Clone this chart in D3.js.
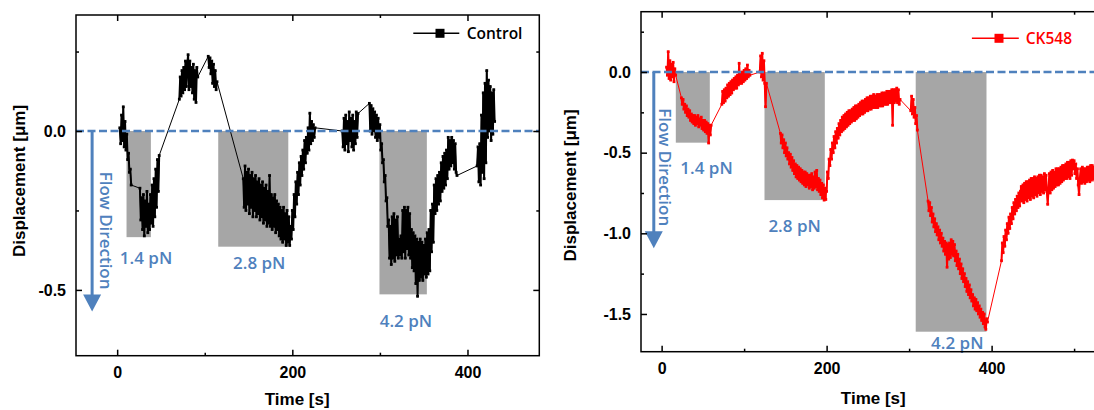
<!DOCTYPE html>
<html><head><meta charset="utf-8">
<script src="https://cdn.jsdelivr.net/npm/d3@7"></script>
<style>body{margin:0;background:#fff;} svg{display:block;}</style>
</head><body><svg id="c" width="1094" height="410"></svg>
<script>
// ---------------- data ----------------
const sampleInterval = 1; // s
const forceLabels = ["1.4 pN", "2.8 pN", "4.2 pN"];

// Control: start time of each recorded block and its displacement readings (µm)
const controlBlockStart = [3, 26, 71, 104, 144, 257, 288, 411];
const controlBlockValues = [
  [0.01,-0.04,0.05,-0.03,0.076,-0.05,0.03,-0.06,-0.01,-0.09,-0.07,-0.13,-0.12,-0.17],
  [-0.18,-0.28,-0.21,-0.31,-0.2,-0.33,-0.22,-0.3,-0.19,-0.32,-0.23,-0.31,-0.2,-0.29,-0.17,-0.3,-0.15,-0.27,-0.12,-0.24,-0.09,-0.19,-0.077],
  [0.1,0.17,0.11,0.19,0.12,0.2,0.13,0.22,0.14,0.21,0.24,0.13,0.22,0.14,0.2,0.12,0.21,0.1,0.19,0.09,0.2,0.17],
  [0.235,0.2,0.23,0.18,0.22,0.15,0.21,0.14,0.19,0.13,0.155],
  [-0.15,-0.24,-0.11,-0.25,-0.13,-0.23,-0.12,-0.26,-0.14,-0.24,
   -0.13,-0.27,-0.15,-0.25,-0.14,-0.27,-0.16,-0.26,-0.15,-0.28,
   -0.17,-0.27,-0.16,-0.29,-0.18,-0.28,-0.17,-0.3,-0.19,-0.29,
   -0.14,-0.3,-0.2,-0.31,-0.21,-0.3,-0.2,-0.32,-0.22,-0.31,
   -0.23,-0.33,-0.24,-0.34,-0.25,-0.35,-0.24,-0.34,-0.26,-0.36,
   -0.25,-0.35,-0.27,-0.36,-0.3,-0.34,-0.25,-0.31,-0.2,-0.27,
   -0.16,-0.23,-0.13,-0.2,-0.1,-0.17,-0.08,-0.14,-0.06,-0.12,
   -0.03,-0.1,-0.02,-0.07,0.01,-0.06,0.056,-0.04,0.03,-0.03,
   0.02,-0.02,0.01],
  [0.0,-0.05,0.04,-0.06,0.05,-0.04,0.03,-0.065,0.06,-0.03,0.04,-0.05,0.05,-0.06,0.03,-0.04,0.06,-0.02,0.055],
  [0.087,0.0,0.08,-0.01,0.07,0.0,0.06,-0.02,0.05,-0.03,
   0.04,-0.02,0.02,-0.06,-0.04,-0.1,-0.09,-0.16,-0.14,-0.22,
   -0.21,-0.3,-0.28,-0.4,-0.3,-0.42,-0.27,-0.4,-0.26,-0.41,
   -0.28,-0.39,-0.27,-0.4,-0.34,-0.39,-0.33,-0.4,-0.25,-0.38,
   -0.24,-0.4,-0.25,-0.37,-0.24,-0.39,-0.26,-0.4,-0.31,-0.43,
   -0.32,-0.44,-0.33,-0.48,-0.34,-0.52,-0.35,-0.47,-0.34,-0.46,
   -0.35,-0.47,-0.36,-0.45,-0.34,-0.46,-0.32,-0.45,-0.31,-0.44,
   -0.25,-0.38,-0.23,-0.35,-0.17,-0.26,-0.15,-0.25,-0.14,-0.23,
   -0.13,-0.22,-0.1,-0.19,-0.08,-0.18,-0.07,-0.17,-0.06,-0.15,
   -0.02,-0.12,-0.03,-0.11,-0.02,-0.1,-0.03,-0.12,-0.04,-0.13,-0.14],
  [-0.11,-0.05,-0.16,-0.04,-0.17,0.05,-0.13,0.12,-0.15,0.15,-0.1,0.19,-0.02,0.16,0.0,0.14,-0.03,0.12,-0.01,0.13,0.03]
];

// CK548
const ck548BlockStart = [6, 24, 73, 119, 144, 200, 302, 323, 412];
const ck548BlockValues = [
  [0.03,-0.02,0.126,-0.04,0.07,-0.05,0.05,-0.03,0.06,-0.06,0.02,-0.02],
  [-0.16,-0.2,-0.17,-0.23,-0.2,-0.25,-0.21,-0.27,-0.23,-0.28,
   -0.24,-0.3,-0.26,-0.31,-0.27,-0.32,-0.27,-0.33,-0.28,-0.32,
   -0.27,-0.34,-0.29,-0.33,-0.28,-0.35,-0.3,-0.36,-0.3,-0.37,
   -0.31,-0.38,-0.32,-0.44,-0.33,-0.39,-0.33],
  [-0.2,-0.12,-0.19,-0.11,-0.18,-0.1,-0.16,-0.08,-0.15,-0.07,
   -0.14,-0.06,-0.13,-0.05,-0.11,-0.04,-0.1,-0.03,-0.1,-0.02,
   -0.08,0.054,-0.07,-0.01,-0.07,0.0,-0.06,0.01,-0.05,0.02,
   -0.04,0.043,-0.03,0.01,-0.02],
  [0.0,0.1,-0.03,0.116,-0.05,0.07,-0.07,-0.215,-0.07],
  [-0.38,-0.44,-0.39,-0.47,-0.42,-0.5,-0.44,-0.52,-0.47,-0.54,
   -0.5,-0.57,-0.51,-0.59,-0.53,-0.61,-0.55,-0.63,-0.57,-0.65,
   -0.58,-0.66,-0.59,-0.67,-0.6,-0.68,-0.61,-0.69,-0.62,-0.7,
   -0.62,-0.71,-0.63,-0.7,-0.64,-0.72,-0.64,-0.71,-0.63,-0.73,
   -0.65,-0.72,-0.62,-0.71,-0.61,-0.73,-0.66,-0.74,-0.67,-0.76,
   -0.69,-0.78,-0.7,-0.794,-0.72,-0.79],
  [-0.74,-0.62,-0.66,-0.54,-0.58,-0.48,-0.54,-0.44,-0.5,-0.4,
   -0.47,-0.37,-0.44,-0.35,-0.41,-0.32,-0.39,-0.3,-0.37,-0.28,
   -0.36,-0.27,-0.35,-0.26,-0.34,-0.25,-0.33,-0.24,-0.32,-0.24,
   -0.31,-0.23,-0.3,-0.22,-0.3,-0.21,-0.29,-0.21,-0.28,-0.2,
   -0.27,-0.19,-0.26,-0.18,-0.26,-0.18,-0.25,-0.17,-0.24,-0.16,
   -0.24,-0.16,-0.23,-0.15,-0.23,-0.15,-0.22,-0.14,-0.22,-0.15,
   -0.22,-0.14,-0.22,-0.14,-0.21,-0.14,-0.21,-0.13,-0.21,-0.13,
   -0.2,-0.13,-0.2,-0.12,-0.2,-0.12,-0.19,-0.12,-0.19,-0.11,
   -0.33,-0.11,-0.19,-0.11,-0.18,-0.1,-0.19,-0.11,-0.2,-0.17],
  [-0.24,-0.15,-0.26,-0.17,-0.28,-0.22,-0.32,-0.27,-0.36],
  [-0.8,-0.86,-0.81,-0.89,-0.84,-0.93,-0.88,-0.96,-0.91,-0.99,
   -0.94,-1.01,-0.96,-1.04,-0.98,-1.06,-1.0,-1.08,-1.03,-1.11,
   -1.05,-1.13,-1.06,-1.21,-1.07,-1.16,-1.06,-1.15,-1.04,-1.13,
   -1.05,-1.14,-1.07,-1.17,-1.11,-1.2,-1.13,-1.22,-1.16,-1.25,
   -1.19,-1.28,-1.22,-1.3,-1.25,-1.33,-1.28,-1.36,-1.3,-1.38,
   -1.32,-1.4,-1.35,-1.42,-1.38,-1.45,-1.4,-1.47,-1.41,-1.48,
   -1.43,-1.5,-1.45,-1.52,-1.47,-1.54,-1.49,-1.56,-1.5,-1.58,
   -1.595,-1.53,-1.55],
  [-1.17,-1.06,-1.12,-1.02,-1.08,-0.98,-1.04,-0.94,-1.0,-0.9,
   -0.97,-0.88,-0.94,-0.84,-0.91,-0.81,-0.88,-0.79,-0.86,-0.77,
   -0.84,-0.75,-0.83,-0.74,-0.71,-0.8,-0.7,-0.81,-0.69,-0.79,
   -0.68,-0.8,-0.68,-0.78,-0.67,-0.79,-0.66,-0.77,-0.66,-0.78,
   -0.65,-0.76,-0.66,-0.77,-0.65,-0.75,-0.64,-0.76,-0.64,-0.74,
   -0.65,-0.75,-0.63,-0.73,-0.64,-0.74,-0.82,-0.73,-0.63,-0.75,
   -0.62,-0.73,-0.61,-0.72,-0.62,-0.71,-0.6,-0.7,-0.6,-0.7,
   -0.6,-0.69,-0.59,-0.68,-0.58,-0.67,-0.58,-0.66,-0.57,-0.66,
   -0.56,-0.65,-0.56,-0.66,-0.55,-0.64,-0.546,-0.6,-0.55,-0.63,
   -0.57,-0.66,-0.6,-0.7,-0.76,-0.66,-0.6,-0.69,-0.59,-0.68,
   -0.6,-0.69,-0.6,-0.68,-0.59,-0.67,-0.59,-0.68,-0.58,-0.67,
   -0.58,-0.66,-0.59,-0.67,-0.58,-0.66,-0.59,-0.67,-0.6]
];

// Force application windows (time start/end in s, depth of shaded box in µm)
const controlForceStart = [10.7, 115.4, 299.5];
const controlForceEnd   = [38.5, 195.4, 353.6];
const controlForceDepth = [-0.334, -0.364, -0.514];
const ck548ForceStart = [17.2, 124.7, 308];
const ck548ForceEnd   = [58.4, 197.8, 393.8];
const ck548ForceDepth = [-0.438, -0.794, -1.61];

// Force label anchors (time, displacement)
const controlLabelTime = [33, 162.2, 329.7];
const controlLabelDisp = [-0.40, -0.416, -0.597];
const ck548LabelTime = [54.4, 161.2, 358.4];
const ck548LabelDisp = [-0.597, -0.955, -1.678];

// Ticks
const xMajorTicks = [0, 200, 400, 600];
const xMinorTicks = [100, 300, 500];
const controlYMajor = [0, -0.5];
const controlYMinor = [0.25, -0.25];
const ck548YMajor = [0, -0.5, -1.0, -1.5];
const ck548YMinor = [0.25, -0.25, -0.75, -1.25];

// ---------------- drawing ----------------
const svg = d3.select("#c");
const BLUE = "#4f81bd";

function buildBlocks(starts, blocks) {
  return blocks.map((vals, b) => vals.map((v, i) => ({t: starts[b] + i * sampleInterval, v: v})));
}

const panels = [
  {id: "ctl", color: "#000", name: "Control",
   blocks: buildBlocks(controlBlockStart, controlBlockValues),
   fs: controlForceStart, fe: controlForceEnd, fd: controlForceDepth,
   lt: controlLabelTime, ld: controlLabelDisp,
   yMajor: controlYMajor, yMinor: controlYMinor,
   xDomain: [-47, 482], yDomain: [-0.707, 0.365], xRange: [76, 539.3], yRange: [355.7, 15],
   arrowT: -28.6, arrowTip: -0.568, flowT: -19.6, flowV: -0.128,
   legend: {x1: 413.3, x2: 459.3, m: 440, y: 33.3, tx: 466.7},
   yTitle: [25, 181], xTitle: [297.2, 405]},
  {id: "ck", color: "#ff0000", name: "CK548",
   blocks: buildBlocks(ck548BlockStart, ck548BlockValues),
   fs: ck548ForceStart, fe: ck548ForceEnd, fd: ck548ForceDepth,
   lt: ck548LabelTime, ld: ck548LabelDisp,
   yMajor: ck548YMajor, yMinor: ck548YMinor,
   xDomain: [-25, 560], yDomain: [-1.734, 0.374], xRange: [641, 1123.6], yRange: [351.7, 11.7],
   arrowT: -9.5, arrowTip: -1.093, flowT: -2.8, flowV: -0.225,
   legend: {x1: 971.9, x2: 1018.8, m: 999, y: 38.3, tx: 1025.7},
   yTitle: [576, 185.5], xTitle: [873.3, 404]}
];

const AXIS_FONT = "'Liberation Sans', Arial, sans-serif";
const LABEL_FONT = "'Open Sans', 'Noto Sans', sans-serif";

function styleAxis(g, size) {
  g.select(".domain").remove();
  g.selectAll(".tick line").attr("stroke", "#000").attr("stroke-width", 1.5);
  g.selectAll("text").attr("fill", "#000").style("font-family", AXIS_FONT)
    .style("font-weight", "bold").style("font-size", size + "px");
}

panels.forEach(p => {
  const x = d3.scaleLinear().domain(p.xDomain).range(p.xRange);
  const y = d3.scaleLinear().domain(p.yDomain).range(p.yRange);
  const [x0, x1] = p.xRange, [y1, y0] = p.yRange;
  const g = svg.append("g");
  svg.append("clipPath").attr("id", p.id + "clip").append("rect")
    .attr("x", x0).attr("y", y0).attr("width", x1 - x0).attr("height", y1 - y0);
  const plot = g.append("g").attr("clip-path", `url(#${p.id}clip)`);

  // shaded force windows
  plot.selectAll("rect.force").data(p.fs).join("rect").attr("class", "force")
    .attr("x", d => x(d)).attr("y", y(0))
    .attr("width", (d, i) => x(p.fe[i]) - x(d))
    .attr("height", (d, i) => y(p.fd[i]) - y(0))
    .attr("fill", "#a6a6a6");

  // data: thin connecting line through everything, dense strokes within blocks
  const all = p.blocks.flat();
  const line = d3.line().x(d => x(d.t)).y(d => y(d.v));
  plot.append("path").datum(all).attr("d", line).attr("fill", "none")
    .attr("stroke", p.color).attr("stroke-width", 1);
  plot.selectAll("path.blk").data(p.blocks).join("path").attr("class", "blk")
    .attr("d", line).attr("fill", "none").attr("stroke", p.color)
    .attr("stroke-width", 2).attr("stroke-linejoin", "round");
  plot.selectAll("rect.pt").data(all).join("rect").attr("class", "pt")
    .attr("x", d => x(d.t) - 1.4).attr("y", d => y(d.v) - 1.4)
    .attr("width", 2.8).attr("height", 2.8).attr("fill", p.color);

  // zero line
  plot.append("line").attr("x1", x0).attr("x2", x1).attr("y1", y(0)).attr("y2", y(0))
    .attr("stroke", BLUE).attr("stroke-width", 2.4).attr("stroke-dasharray", "8,3.5");

  // force labels
  g.selectAll("text.force").data(forceLabels).join("text").attr("class", "force")
    .attr("x", (d, i) => x(p.lt[i])).attr("y", (d, i) => y(p.ld[i])).attr("dy", "0.36em")
    .attr("text-anchor", "middle").attr("fill", BLUE)
    .style("font-family", LABEL_FONT).style("font-weight", 600).style("font-size", "17px")
    .text(d => d);

  // flow direction arrow
  const ax = x(p.arrowT), tip = y(p.arrowTip);
  g.append("line").attr("x1", ax).attr("x2", ax).attr("y1", y(0)).attr("y2", tip - 12)
    .attr("stroke", BLUE).attr("stroke-width", 3);
  g.append("path").attr("d", `M${ax - 9},${tip - 17} L${ax + 9},${tip - 17} L${ax},${tip} Z`)
    .attr("fill", BLUE);
  g.append("text").attr("transform", `translate(${x(p.flowT)},${y(p.flowV)}) rotate(90)`)
    .attr("fill", BLUE).style("font-family", LABEL_FONT).style("font-weight", 600)
    .style("font-size", "17px").text("Flow Direction");

  // frame
  g.append("rect").attr("x", x0).attr("y", y0).attr("width", x1 - x0).attr("height", y1 - y0)
    .attr("fill", "none").attr("stroke", "#000").attr("stroke-width", 1.5);

  // axes (inward ticks on all sides)
  const fmtX = d => String(d);
  const fmtY = d => d.toFixed(1);
  const xm = xMajorTicks.filter(t => t >= p.xDomain[0] && t <= p.xDomain[1]);
  const xn = xMinorTicks.filter(t => t >= p.xDomain[0] && t <= p.xDomain[1]);
  styleAxis(g.append("g").attr("transform", `translate(0,${y1})`)
    .call(d3.axisBottom(x).tickValues(xm).tickSize(-6).tickPadding(11).tickFormat(fmtX)), 16);
  styleAxis(g.append("g").attr("transform", `translate(0,${y1})`)
    .call(d3.axisBottom(x).tickValues(xn).tickSize(-3).tickFormat("")), 16);
  styleAxis(g.append("g").attr("transform", `translate(0,${y0})`)
    .call(d3.axisTop(x).tickValues(xm).tickSize(-6).tickFormat("")), 16);
  styleAxis(g.append("g").attr("transform", `translate(0,${y0})`)
    .call(d3.axisTop(x).tickValues(xn).tickSize(-3).tickFormat("")), 16);
  styleAxis(g.append("g").attr("transform", `translate(${x0},0)`)
    .call(d3.axisLeft(y).tickValues(p.yMajor).tickSize(-6).tickPadding(10).tickFormat(fmtY)), 16);
  styleAxis(g.append("g").attr("transform", `translate(${x0},0)`)
    .call(d3.axisLeft(y).tickValues(p.yMinor).tickSize(-3).tickFormat("")), 16);
  styleAxis(g.append("g").attr("transform", `translate(${x1},0)`)
    .call(d3.axisRight(y).tickValues(p.yMajor).tickSize(-6).tickFormat("")), 16);
  styleAxis(g.append("g").attr("transform", `translate(${x1},0)`)
    .call(d3.axisRight(y).tickValues(p.yMinor).tickSize(-3).tickFormat("")), 16);

  // axis titles
  g.append("text").attr("transform", `translate(${p.yTitle[0]},${p.yTitle[1]}) rotate(-90)`)
    .attr("text-anchor", "middle").attr("fill", "#000")
    .style("font-family", AXIS_FONT).style("font-weight", "bold").style("font-size", "17px")
    .text("Displacement [μm]");
  g.append("text").attr("x", p.xTitle[0]).attr("y", p.xTitle[1])
    .attr("text-anchor", "middle").attr("fill", "#000")
    .style("font-family", AXIS_FONT).style("font-weight", "bold").style("font-size", "17px")
    .text("Time [s]");

  // legend
  const L = p.legend;
  g.append("line").attr("x1", L.x1).attr("x2", L.x2).attr("y1", L.y).attr("y2", L.y)
    .attr("stroke", p.color).attr("stroke-width", 1.5);
  g.append("rect").attr("x", L.m - 4.5).attr("y", L.y - 4.5).attr("width", 9).attr("height", 9)
    .attr("fill", p.color);
  g.append("text").attr("x", L.tx).attr("y", L.y).attr("dy", "0.36em").attr("fill", p.color)
    .style("font-family", LABEL_FONT).style("font-weight", 600).style("font-size", "15.5px")
    .text(p.name);
});
</script>
</body></html>
